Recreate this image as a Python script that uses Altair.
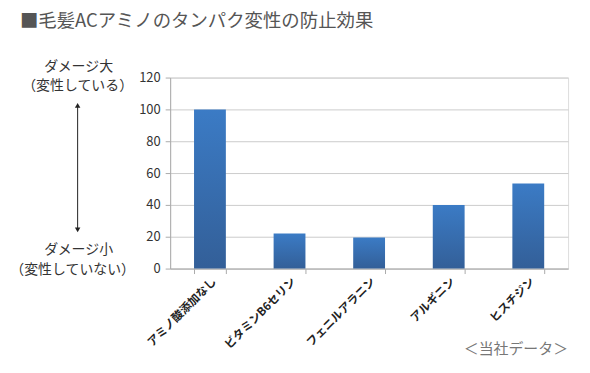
import altair as alt
import pandas as pd

categories = ["アミノ酸添加なし", "ビタミンB6セリン", "フェニルアラニン", "アルギニン", "ヒスチジン"]
values = [100, 22, 19.5, 40, 53.5]
y_ticks = [0, 20, 40, 60, 80, 100, 120]

title_text = "■毛髪ACアミノのタンパク変性の防止効果"
top_label = ["ダメージ大", "（変性している）"]
bottom_label = ["ダメージ小", "（変性していない）"]
source_text = "＜当社データ＞"

FONT = "Noto Sans CJK JP"
df = pd.DataFrame({"cat": categories, "val": values})

gradient = alt.Gradient(
    gradient="linear",
    stops=[alt.GradientStop(color="#3b7bc5", offset=0),
           alt.GradientStop(color="#335f98", offset=1)],
    x1=0, x2=0, y1=0, y2=1,
)

bars = alt.Chart(df).mark_bar(color=gradient).encode(
    x=alt.X("cat:N", sort=categories, title=None,
            scale=alt.Scale(paddingInner=0.6, paddingOuter=0.3),
            axis=alt.Axis(labelAngle=-45, labelFontSize=11.5, labelFontWeight="bold",
                          labelColor="#222", labelFont=FONT, tickBand="extent",
                          domainColor="#aaaaaa", tickColor="#aaaaaa", tickSize=5,
                          labelPadding=2, grid=False)),
    y=alt.Y("val:Q", title=None,
            scale=alt.Scale(domain=[0, 120]),
            axis=alt.Axis(values=y_ticks, labelFontSize=13, labelColor="#333",
                          labelFont=FONT, domainColor="#aaaaaa", tickColor="#aaaaaa",
                          tickSize=5, labelPadding=5, gridColor="#cccccc")),
)

def txt(t, x, y, size=13, weight="normal", color="#333", align="center"):
    return alt.Chart(alt.Data(values=[{}])).mark_text(
        text=t, fontSize=size, fontWeight=weight, color=color, font=FONT,
        align=align, baseline="middle").encode(x=alt.value(x), y=alt.value(y))

title = txt(title_text, -151, -57, size=18.5, color="#555", align="left")
t1 = txt(top_label[0], 79 - 171, 66 - 77, size=14, color="#333")
t2 = txt(top_label[1], 78 - 171, 85 - 77, size=14, color="#333")
b1 = txt(bottom_label[0], 79 - 171, 250 - 77, size=14, color="#333")
b2 = txt(bottom_label[1], 73 - 171, 270 - 77, size=14, color="#333")
src = txt(source_text, 400, 350 - 77, size=15, color="#777", align="right")

arrow_line = alt.Chart(alt.Data(values=[{}])).mark_rule(color="#222", strokeWidth=1).encode(
    x=alt.value(78 - 171), y=alt.value(106 - 77), y2=alt.value(229 - 77))
arrow_up = alt.Chart(alt.Data(values=[{}])).mark_point(
    shape="triangle-up", filled=True, color="#222", size=30, opacity=1).encode(
    x=alt.value(78 - 171), y=alt.value(105 - 77))
arrow_down = alt.Chart(alt.Data(values=[{}])).mark_point(
    shape="triangle-down", filled=True, color="#222", size=30, opacity=1).encode(
    x=alt.value(78 - 171), y=alt.value(230 - 77))

chart = alt.layer(bars, title, t1, t2, b1, b2, src, arrow_line, arrow_up, arrow_down).properties(
    width=400, height=192,
    autosize=alt.AutoSizeParams(type="none"),
    padding={"left": 163, "top": 69, "right": 14, "bottom": 94},
).configure_view(stroke=None).configure(background="white")

chart.save("out.html", embed_options={"renderer": "svg", "actions": False})
